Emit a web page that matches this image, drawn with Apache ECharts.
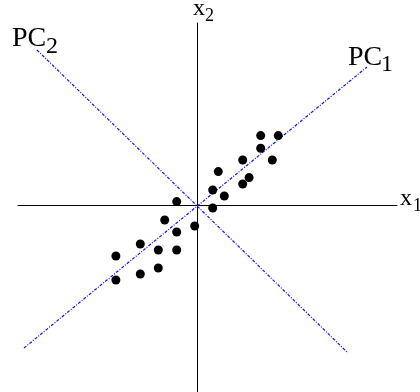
<!DOCTYPE html>
<html>
<head>
<meta charset="utf-8">
<script src="https://cdn.jsdelivr.net/npm/echarts@6/dist/echarts.min.js"></script>
<style>
  html, body { margin: 0; padding: 0; background: #fff; }
  #main { width: 420px; height: 392px; }
</style>
</head>
<body>
<div id="main"></div>
<script>
// observations (x1, x2)
var xValues = [3.16, 4.04, 3.16, 2.26, 3.74, 1.04, 2.58, 2.26, 0.76, 1.34, -1.04,
               0.76, -1.64, -0.14, -1.04, -2.86, -1.96, -1.04, -4.08, -2.86, -1.96, -4.08];
var yValues = [3.47, 3.47, 2.84, 2.25, 2.25, 1.67, 1.37, 1.05, 0.75, 0.45, 0.17,
               -0.15, -0.75, -1.05, -1.35, -1.95, -2.25, -2.25, -2.55, -3.45, -3.15, -3.75];

// principal component directions, drawn as segments through the origin
var pc1 = [[-8.675, -7.15], [8.475, 6.9]];
var pc2 = [[-8.025, 7.75], [7.525, -7.4]];

var serif = '"Liberation Serif", "DejaVu Serif", serif';

var points = xValues.map(function (x, i) { return [x, yValues[i]]; });

function label(txt, x, y, size) {
  return {
    type: 'text', x: x, y: y, silent: true,
    style: {
      text: txt, font: size + 'px ' + serif, fill: '#000',
      verticalAlign: 'middle', align: 'left'
    }
  };
}

var chart = echarts.init(document.getElementById('main'));

var axisCommon = {
  type: 'value',
  axisLine: { onZero: true, lineStyle: { color: '#000', width: 1 } },
  axisTick: { show: false },
  axisLabel: { show: false },
  splitLine: { show: false }
};

var pcLine = { color: '#1010ff', width: 1.2, type: [3, 1.5, 1, 1.5] };

chart.setOption({
  animation: false,
  grid: { left: 18, right: 23, top: 23, bottom: 0 },
  xAxis: Object.assign({ min: -8.975, max: 9.975 }, axisCommon),
  yAxis: Object.assign({ min: -9.35, max: 9.1 }, axisCommon),
  series: [
    { type: 'line', data: pc1, symbol: 'none', lineStyle: pcLine, z: 1 },
    { type: 'line', data: pc2, symbol: 'none', lineStyle: pcLine, z: 1 },
    { type: 'scatter', data: points, symbolSize: 9, itemStyle: { color: '#000', opacity: 1 }, z: 3 }
  ],
  graphic: [
    label('PC', 12, 39, 28), label('2', 46, 47, 24),
    label('PC', 348, 58, 28), label('1', 381, 65, 24),
    label('x', 193, 9, 24), label('2', 205, 16, 18),
    label('x', 400, 199, 24), label('1', 413, 206, 18),
    label('Figure 1: A toy data set illustrating PCA', 0, 405, 24)
  ]
});
</script>
</body>
</html>
